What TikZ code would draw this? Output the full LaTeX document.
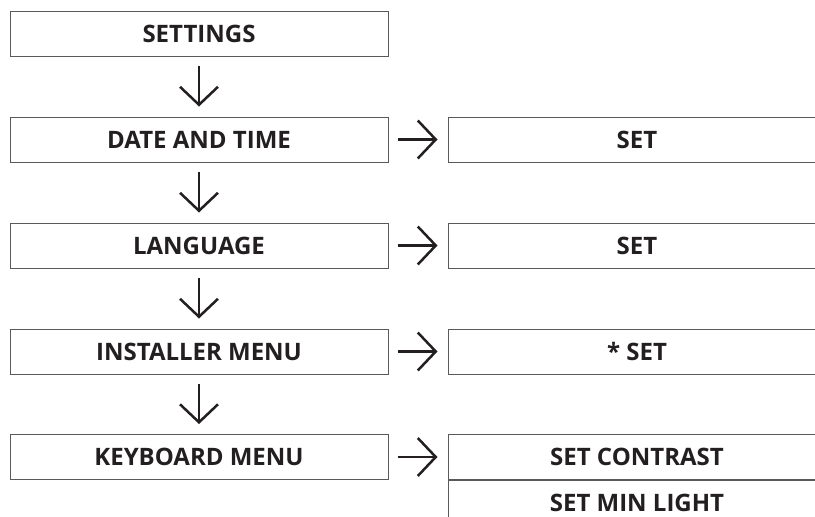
\documentclass[tikz,border=0pt]{standalone}
\usepackage{fontspec}
\setmainfont{Open Sans}
\usetikzlibrary{arrows.meta}
\definecolor{ink}{HTML}{231F20}
\definecolor{frame}{HTML}{5A5A5A}
\tikzset{
  menubox/.style={draw=frame, line width=1pt, fill=white, minimum width=378pt,
    minimum height=45pt, inner sep=0pt, text=ink, font=\bfseries\fontsize{24}{28}\selectfont},
  arr/.style={draw=ink, line width=2.5pt, -{Straight Barb[length=18pt, width=38pt, line width=2.5pt]},
    shorten <=9pt, shorten >=10pt}
}
\begin{document}
\begin{tikzpicture}[x=1pt, y=-1pt]
\useasboundingbox (0,0) rectangle (815,517);
\clip (0,0) rectangle (815,517);
% left column
\node[menubox] (settings)  at (199,33.5)  {SETTINGS};
\node[menubox] (datetime)  at (199,139.5) {DATE AND TIME};
\node[menubox] (language)  at (199,245.5) {LANGUAGE};
\node[menubox] (installer) at (199,351.5) {INSTALLER MENU};
\node[menubox] (keyboard)  at (199,457)   {KEYBOARD MENU};
% right column
\node[menubox] (dateset)   at (637,139.5) {SET};
\node[menubox] (langset)   at (637,245.5) {SET};
\node[menubox] (instset)   at (637,351.5) {* SET};
\node[menubox] (contrast)  at (637,457)   {SET CONTRAST};
\node[menubox, anchor=north] (minlight) at (contrast.south) {SET MIN LIGHT};
% arrows
\draw[arr] (settings.south)  -- (datetime.north);
\draw[arr] (datetime.south)  -- (language.north);
\draw[arr] (language.south)  -- (installer.north);
\draw[arr] (installer.south) -- (keyboard.north);
\draw[arr] (datetime.east)   -- (dateset.west);
\draw[arr] (language.east)   -- (langset.west);
\draw[arr] (installer.east)  -- (instset.west);
\draw[arr] (keyboard.east)   -- (contrast.west);
\end{tikzpicture}
\end{document}
